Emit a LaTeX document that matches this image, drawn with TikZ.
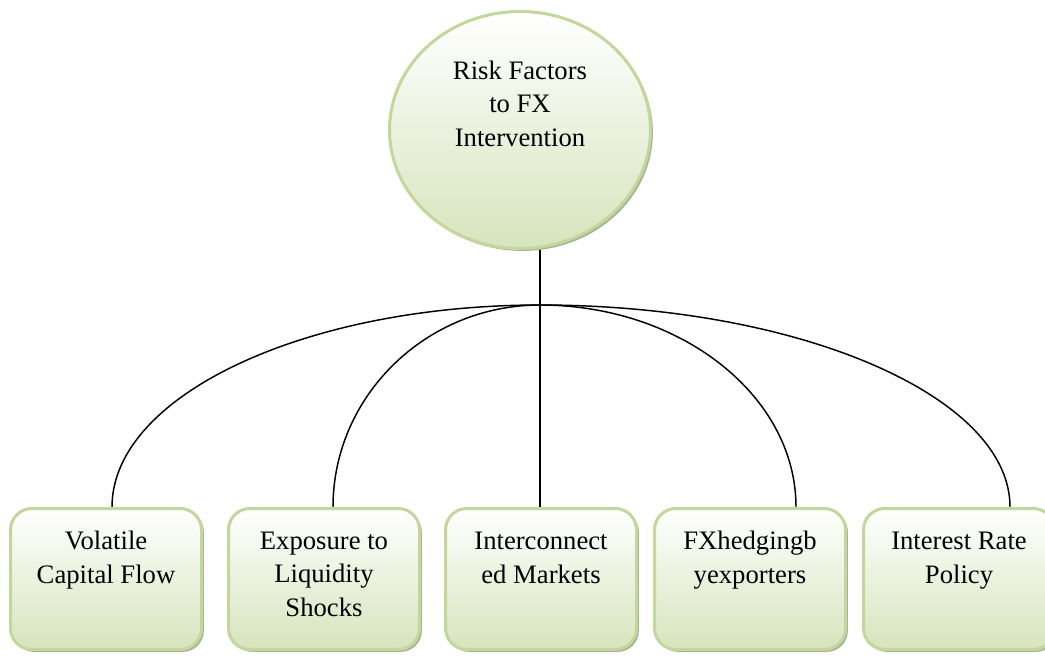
\documentclass[tikz,border=0pt]{standalone}
\usepackage{fontspec}
\setmainfont{Liberation Serif}
\usetikzlibrary{shapes.geometric,shadows}
\definecolor{edgeg}{HTML}{C3D69B}
\definecolor{fillg}{HTML}{D7E4BD}
\definecolor{shadeg}{HTML}{A7B194}
\pgfdeclarelayer{back}
\pgfsetlayers{back,main}
\tikzset{
  shapebase/.style={draw=edgeg, line width=2.25pt, top color=white, bottom color=fillg,
    drop shadow={shadow xshift=1.8pt, shadow yshift=-1.8pt, fill=shadeg, opacity=1}},
  rootnode/.style={shapebase, ellipse, minimum width=195.75pt, minimum height=177.75pt, inner sep=0pt},
  factorbox/.style={shapebase, rectangle, rounded corners=16pt, minimum width=143.25pt,
    minimum height=105.75pt, inner sep=0pt},
  % multi-line captions are placed by the baseline of their last line
  caption/.style={font=\fontsize{20}{25}\selectfont, align=center, anchor=base, inner sep=0pt},
  link/.style={draw=black, line width=1.1pt},
}
\begin{document}
\begin{tikzpicture}[x=0.75pt, y=-0.75pt]
  \useasboundingbox (0,0) rectangle (1045,658);

  % central topic
  \node[rootnode] (root) at (520,130) {};
  \node[caption] (roottext) at (520,146) {Risk Factors\\to FX\\Intervention};

  % the five risk factors
  \node[factorbox] (b1) at (106,579) {};
  \node[factorbox] (b2) at (324,579) {};
  \node[factorbox] (b3) at (541,579) {};
  \node[factorbox] (b4) at (750,579) {};
  \node[factorbox] (b5) at (959,579) {};

  \node[caption] (t1) at (106,583) {Volatile\\Capital Flow};
  \node[caption] (t2) at (324,616) {Exposure to\\Liquidity\\Shocks};
  \node[caption] (t3) at (541,583) {Interconnect\\ed Markets};
  \node[caption] (t4) at (750,583) {FXhedgingb\\yexporters};
  \node[caption] (t5) at (959,583) {Interest Rate\\Policy};

  % connectors: stem from the centre, then arcs to each box
  \coordinate (junction) at (540,305);
  \begin{pgfonlayer}{back}
    \draw[link] (junction |- root.-81) -- (junction);
    \draw[link] (junction) -- ([xshift=-0.75pt]b3.north);
    \draw[link] (junction) .. controls +(-236,0) and +(0,-111) .. ([xshift=4.5pt]b1.north);
    \draw[link] (junction) .. controls +(-114,0) and +(0,-111) .. ([xshift=6.75pt]b2.north);
    \draw[link] (junction) .. controls +(141,0) and +(0,-111) .. ([xshift=34.5pt]b4.north);
    \draw[link] (junction) .. controls +(259,0) and +(0,-111) .. ([xshift=38.25pt]b5.north);
  \end{pgfonlayer}
\end{tikzpicture}
\end{document}
